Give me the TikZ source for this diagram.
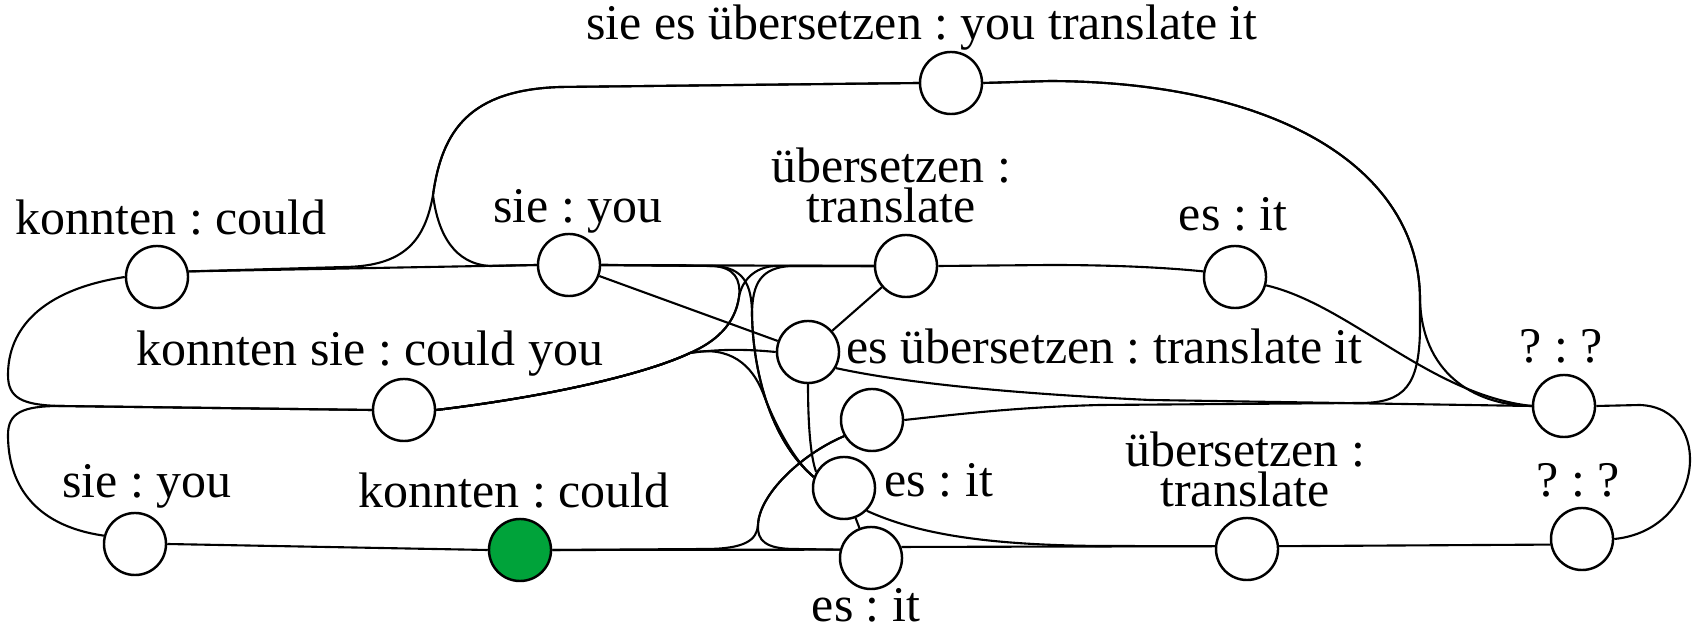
\documentclass[tikz,border=0pt]{standalone}
\usepackage{fontspec}
\setmainfont{Liberation Serif}
\definecolor{nodegreen}{RGB}{0,163,58}
\pgfdeclarelayer{bg}
\pgfsetlayers{bg,main}
\frenchspacing
\begin{document}
\frenchspacing
\begin{tikzpicture}[x=0.01cm,y=-0.01cm,
  st/.style={circle,draw,line width=0.7pt,fill=white,minimum size=0.62cm,inner sep=0pt},
  lab/.style={inner sep=0pt,font=\fontsize{14.2pt}{11.6pt}\selectfont\frenchspacing},
  edge/.style={line width=0.6pt}]
\useasboundingbox (0,0) rectangle (1694,628);
% states
\node[st] (T) at (951,83) {};
\node[st] (K1) at (157,277) {};
\node[st] (S1) at (569,265) {};
\node[st] (U1) at (906,266) {};
\node[st] (E1) at (1235,277) {};
\node[st] (ES) at (808,352) {};
\node[st] (KS) at (404,410) {};
\node[st] (X) at (872,420) {};
\node[st] (E2) at (844,488) {};
\node[st] (E3) at (871,558) {};
\node[st] (Q1) at (1564,406) {};
\node[st] (Q2) at (1582,539) {};
\node[st] (U2) at (1247,549) {};
\node[st] (S2) at (135,544) {};
\node[st,fill=nodegreen] (G) at (520,550) {};
% labels
\node[lab,anchor=base] (lT) at (922,40) {sie es übersetzen : you translate it};
\node[lab,anchor=base] (lK1) at (171,235) {konnten : could};
\node[lab,anchor=base] (lS1) at (578,223) {sie : you};
\node[lab,anchor=south,align=center] (lU1) at (891,224) {übersetzen :\\translate};
\node[lab,anchor=base] (lE1) at (1233,231) {es : it};
\node[lab,anchor=base west] (lES) at (846,364) {es übersetzen : translate it};
\node[lab,anchor=base] (lKS) at (370,366) {konnten sie : could you};
\node[lab,anchor=base west] (lE2) at (884,497) {es : it};
\node[lab,anchor=base] (lQ1) at (1561,363) {? : ?};
\node[lab,anchor=base] (lQ2) at (1578,497) {? : ?};
\node[lab,anchor=south,align=center] (lU2) at (1245,508) {übersetzen :\\translate};
\node[lab,anchor=base] (lE3) at (866,622) {es : it};
\node[lab,anchor=base] (lS2) at (147,498) {sie : you};
\node[lab,anchor=base] (lG) at (514,508) {konnten : could};
% connectors
\begin{pgfonlayer}{bg}
\draw[edge] (K1.10) -- (S1.west);
\draw[edge] (K1.10) -- (345,267) .. controls (405,266) and (425,240) .. (433,195) .. controls (442,130) and (470,90) .. (560,87) -- (T.west);
\draw[edge] (S1.west) -- (490,266) .. controls (455,264) and (438,235) .. (433,195) .. controls (442,130) and (470,90) .. (560,87) -- (T.west);
\draw[edge] (S1.east) -- (U1.west);
\draw[edge] (U1.east) -- (1050,265) .. controls (1120,265) and (1170,268) .. (E1.170);
\draw[edge] (E1.-15) .. controls (1350,305) and (1430,395) .. (Q1.west);
\draw[edge] (T.east) -- (1050,81) .. controls (1280,82) and (1420,170) .. (1420,300) .. controls (1422,370) and (1470,405) .. (Q1.west);
\draw[edge] (X.east) .. controls (960,414) and (1020,407) .. (1100,405) -- (1360,403) .. controls (1405,403) and (1419,385) .. (1420,330) -- (1420,300) .. controls (1420,170) and (1280,82) .. (1050,81) -- (T.east);
\draw[edge] (ES.-30) .. controls (900,382) and (1000,393) .. (1150,400) -- (Q1.west);
\draw[edge] (S1) -- (ES);
\draw[edge] (ES) -- (U1);
\draw[edge] (ES.south) .. controls (808,420) and (810,455) .. (E2.150);
\draw[edge] (KS.east) .. controls (560,395) and (650,372) .. (690,353) .. controls (720,349) and (745,349) .. (ES.west);
\draw[edge] (KS.east) .. controls (560,395) and (650,372) .. (690,353) .. controls (730,345) and (752,365) .. (763,393) .. controls (775,425) and (795,462) .. (E2.160);
\draw[edge] (S1.east) -- (712,266) .. controls (735,267) and (741,280) .. (739,297) .. controls (735,325) and (715,342) .. (690,353) .. controls (650,372) and (560,395) .. (KS.east);
\draw[edge] (U1.west) -- (775,266) .. controls (755,267) and (742,280) .. (739,297) .. controls (735,325) and (715,342) .. (690,353) .. controls (650,372) and (560,395) .. (KS.east);
\draw[edge] (S1.east) -- (715,266) .. controls (742,268) and (752,282) .. (752,315) .. controls (753,370) and (770,440) .. (E2.160);
\draw[edge] (U1.west) -- (790,266) .. controls (762,268) and (752,282) .. (752,315) .. controls (753,370) and (770,440) .. (E2.160);
\draw[edge] (E2) -- (E3);
\draw[edge] (E2.-45) .. controls (920,535) and (990,545) .. (1100,546) -- (U2.175);
\draw[edge] (G.east) -- (705,549) .. controls (745,549) and (757,540) .. (758,525) .. controls (759,495) and (800,455) .. (X.-150);
\draw[edge] (E3.165) -- (795,549) .. controls (765,549) and (757,540) .. (758,525) .. controls (759,495) and (800,455) .. (X.-150);
\draw[edge] (K1.west) .. controls (40,290) and (8,330) .. (8,375) .. controls (8,398) and (22,405) .. (60,406) -- (KS.west);
\draw[edge] (S2.165) .. controls (30,525) and (8,480) .. (8,435) .. controls (8,413) and (22,406) .. (60,406) -- (KS.west);
\draw[edge] (S2.east) -- (G.west);
\draw[edge] (G.east) -- (E3.165);
\draw[edge] (E3.20) -- (U2.175);
\draw[edge] (U2.5) -- (Q2.190);
\draw[edge] (Q1.east) -- (1640,405) .. controls (1715,408) and (1705,530) .. (Q2.east);
\end{pgfonlayer}
\end{tikzpicture}
\end{document}
